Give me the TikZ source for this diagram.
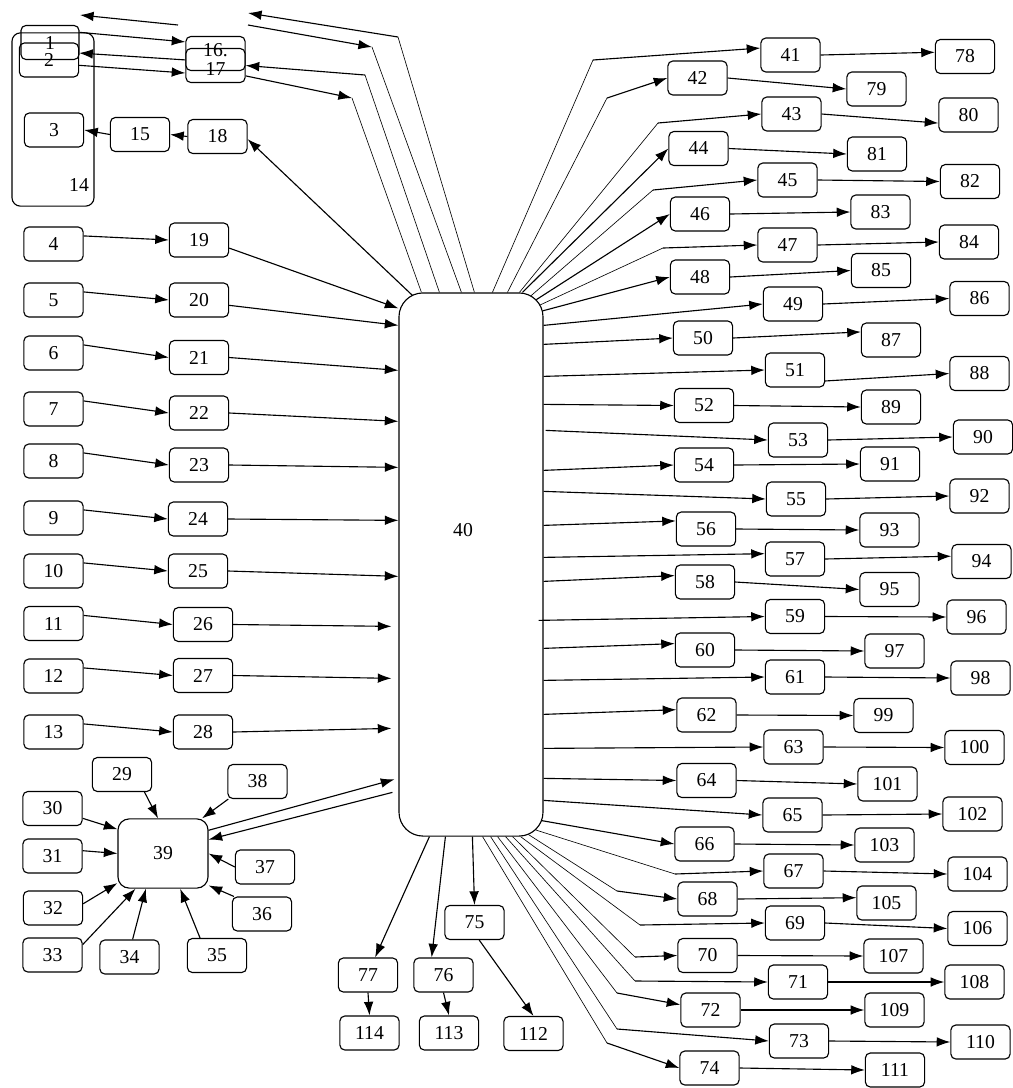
\documentclass[tikz,border=0pt]{standalone}
\usepackage{fontspec}
\setmainfont{Liberation Serif}
\usetikzlibrary{arrows.meta}

\begin{document}
\begin{tikzpicture}[x=0.025cm, y=-0.025cm,
	box/.style={draw, line width=0.8pt, rounded corners=3.5pt, minimum width=1.48cm, minimum height=0.85cm, inner sep=0pt, font=\fontsize{14}{16}\selectfont},
	lab/.style={inner sep=0pt, font=\fontsize{14}{16}\selectfont},
	arr/.style={-{Latex[length=3.4mm, width=2.4mm]}, line width=0.8pt},
	fan/.style={line width=0.45pt}]
	\useasboundingbox (0,0) rectangle (1013,1088);

	\node[box, minimum width=2.05cm, minimum height=4.33cm, rounded corners=6pt] (b14) at (53,119.5) {};
	\node[lab] (t14) at (79,185) {14};
	\node[box, minimum width=1.45cm] (b1) at (50,42.5) {1};
	\node[box] (b2) at (49,60) {2};
	\node[box] (b3) at (54,130) {3};
	\node[box] (b15) at (140,134.5) {15};
	\node[box] (b16) at (215.5,53.5) {\raisebox{2.5pt}[\height][\depth]{16.}};
	\node[box] (b17) at (215.5,65.5) {\raisebox{-2.5pt}[\height][\depth]{17}};
	\node[box] (b18) at (217.5,136.5) {18};

	\node[box] (b4) at (53.5,244) {4};
	\node[box] (b5) at (53.5,300) {5};
	\node[box] (b6) at (53.5,353) {6};
	\node[box] (b7) at (53.5,409) {7};
	\node[box] (b8) at (53.5,461) {8};
	\node[box] (b9) at (53.5,518) {9};
	\node[box] (b10) at (53.5,571) {10};
	\node[box] (b11) at (53.5,623.5) {11};
	\node[box] (b12) at (53.5,676) {12};
	\node[box] (b13) at (53.5,732) {13};

	\node[box] (b19) at (199,240) {19};
	\node[box] (b20) at (199,300) {20};
	\node[box] (b21) at (199,357.5) {21};
	\node[box] (b22) at (199,413) {22};
	\node[box] (b23) at (199,465) {23};
	\node[box] (b24) at (198,519) {24};
	\node[box] (b25) at (198,571) {25};
	\node[box] (b26) at (203,624.5) {26};
	\node[box] (b27) at (203,675.5) {27};
	\node[box] (b28) at (203,732) {28};

	\node[box] (b29) at (122,774.5) {29};
	\node[box] (b30) at (52.5,808.5) {30};
	\node[box] (b31) at (52.5,856) {31};
	\node[box] (b32) at (53,908) {32};
	\node[box] (b33) at (52.5,955) {33};
	\node[box] (b34) at (129.5,957) {34};
	\node[box] (b35) at (217,955.5) {35};
	\node[box] (b36) at (262,914) {36};
	\node[box] (b37) at (265,867) {37};
	\node[box] (b38) at (257.5,781.5) {38};
	\node[box, minimum width=2.25cm, minimum height=1.73cm, rounded corners=8pt] (b39) at (163,853.5) {39};

	\node[box, minimum width=3.6cm, minimum height=13.575cm, rounded corners=0.6cm] (b40) at (471,564.5) {};
	\node[lab] (t40) at (463,530) {40};

	\node[box] (b41) at (790.5,55) {41};
	\node[box] (b42) at (697.5,78) {42};
	\node[box] (b43) at (791.5,114) {43};
	\node[box] (b44) at (698.5,148.5) {44};
	\node[box] (b45) at (787.5,180) {45};
	\node[box] (b46) at (700,214) {46};
	\node[box] (b47) at (787.5,245) {47};
	\node[box] (b48) at (700,277) {48};
	\node[box] (b49) at (793,304) {49};
	\node[box] (b50) at (703,338) {50};
	\node[box] (b51) at (795,370) {51};
	\node[box] (b52) at (704,405.5) {52};
	\node[box] (b53) at (798,440) {53};
	\node[box] (b54) at (704,465) {54};
	\node[box] (b55) at (796,499) {55};
	\node[box] (b56) at (706,529) {56};
	\node[box] (b57) at (795,559) {57};
	\node[box] (b58) at (705,582) {58};
	\node[box] (b59) at (795,616.5) {59};
	\node[box] (b60) at (705,650) {60};
	\node[box] (b61) at (795,677) {61};
	\node[box] (b62) at (706.5,715) {62};
	\node[box] (b63) at (793.5,747) {63};
	\node[box] (b64) at (706.5,780.5) {64};
	\node[box] (b65) at (792.5,815) {65};
	\node[box] (b66) at (704.5,844) {66};
	\node[box] (b67) at (793.5,871) {67};
	\node[box] (b68) at (707.5,899) {68};
	\node[box] (b69) at (795,923) {69};
	\node[box] (b70) at (707.5,955.5) {70};
	\node[box] (b71) at (798,982) {71};
	\node[box] (b72) at (710.5,1010) {72};
	\node[box] (b73) at (799,1041) {73};
	\node[box] (b74) at (709.5,1068) {74};

	\node[box] (b75) at (474.5,922.5) {75};
	\node[box] (b76) at (443.5,975) {76};
	\node[box] (b77) at (368,975) {77};

	\node[box] (b78) at (965,56.5) {78};
	\node[box] (b79) at (876.5,89) {79};
	\node[box] (b80) at (968.5,115) {80};
	\node[box] (b81) at (877,154) {81};
	\node[box] (b82) at (970,181.5) {82};
	\node[box] (b83) at (880.5,212) {83};
	\node[box] (b84) at (969,242) {84};
	\node[box] (b85) at (881,270.5) {85};
	\node[box] (b86) at (979.5,298.5) {86};
	\node[box] (b87) at (891,340) {87};
	\node[box] (b88) at (979.5,373.5) {88};
	\node[box] (b89) at (891,407) {89};
	\node[box] (b90) at (983,437) {90};
	\node[box] (b91) at (890,464) {91};
	\node[box] (b92) at (979.5,496) {92};
	\node[box] (b93) at (889.5,530) {93};
	\node[box] (b94) at (981.5,561.5) {94};
	\node[box] (b95) at (889.5,589.5) {95};
	\node[box] (b96) at (976.5,617) {96};
	\node[box] (b97) at (894.5,651) {97};
	\node[box] (b98) at (980.5,678) {98};
	\node[box] (b99) at (883.5,715.5) {99};
	\node[box] (b100) at (974.5,747.5) {100};
	\node[box] (b101) at (887.5,784) {101};
	\node[box] (b102) at (972.5,814) {102};
	\node[box] (b103) at (884.5,845) {103};
	\node[box] (b104) at (977.5,874) {104};
	\node[box] (b105) at (886.5,903) {105};
	\node[box] (b106) at (977.5,928.5) {106};
	\node[box] (b107) at (893.5,956) {107};
	\node[box] (b108) at (974.5,982) {108};
	\node[box] (b109) at (894.5,1010) {109};
	\node[box] (b110) at (980.5,1042) {110};
	\node[box] (b111) at (895,1070) {111};

	\node[box] (b112) at (533.5,1033.5) {112};
	\node[box] (b113) at (449,1033) {113};
	\node[box] (b114) at (369.5,1033) {114};

	\coordinate (p1) at (178,25);
	\coordinate (p2) at (80,15);
	\coordinate (pA) at (248,13);
	\coordinate (kA) at (398,37);
	\coordinate (pB) at (248,25);
	\coordinate (kB) at (372,47);
	\coordinate (kC) at (365,75);
	\coordinate (kD) at (352,98);

	\coordinate (k41) at (593,60);
	\coordinate (k42) at (607,98);
	\coordinate (k43) at (658,123);
	\coordinate (k45) at (653,190);
	\coordinate (k47) at (663,248);
	\coordinate (k67) at (675,874);
	\coordinate (k68) at (617,891);
	\coordinate (k69) at (640,925);
	\coordinate (k70) at (635,957);
	\coordinate (k71) at (635,981);
	\coordinate (k72) at (617,993);
	\coordinate (k73) at (617,1029);
	\coordinate (k74) at (607,1043);

	\draw[arr] (b1.19) -- (b16.159);
	\draw[arr] (b16.192) -- (b2.13);
	\draw[arr] (b2.-10) -- (b17.194);
	\draw[arr] (b18.west) -- (b15.east);
	\draw[arr] (b15.west) -- (b3.east);
	\draw[arr] ([shift={(14,3)}]b40.north west) -- (b18.-5);
	\draw[arr] (p1) -- (p2);

	\draw[fan] ([shift={(76,0)}]b40.north west) -- (kA);
	\draw[arr] (kA) -- (pA);
	\draw[arr] (pB) -- (kB);
	\draw[fan] (kB) -- ([shift={(63,0)}]b40.north west);
	\draw[fan] ([shift={(41,0)}]b40.north west) -- (kC);
	\draw[arr] (kC) -- (b17.east);
	\draw[arr] (b17.-19) -- (kD);
	\draw[fan] (kD) -- ([shift={(23,0)}]b40.north west);

	\draw[arr] (b4.15) -- (b19.west);
	\draw[arr] (b5.15) -- (b20.west);
	\draw[arr] (b6.15) -- (b21.west);
	\draw[arr] (b7.15) -- (b22.west);
	\draw[arr] (b8.15) -- (b23.west);
	\draw[arr] (b9.15) -- (b24.west);
	\draw[arr] (b10.15) -- (b25.west);
	\draw[arr] (b11.15) -- (b26.west);
	\draw[arr] (b12.15) -- (b27.west);
	\draw[arr] (b13.15) -- (b28.west);

	\draw[arr] (b19.-15) -- ([shift={(0,16)}]b40.north west);
	\draw[arr] (b20.-10) -- ([shift={(0,33)}]b40.north west);
	\draw[arr] (b21.east) -- ([shift={(0,78)}]b40.north west);
	\draw[arr] (b22.east) -- ([shift={(0,129)}]b40.north west);
	\draw[arr] (b23.east) -- ([shift={(0,175)}]b40.north west);
	\draw[arr] (b24.east) -- ([shift={(0,228)}]b40.north west);
	\draw[arr] (b25.east) -- ([shift={(0,284)}]b40.north west);
	\draw[arr] (b26.east) -- ([shift={(-7,334)}]b40.north west);
	\draw[arr] (b27.east) -- ([shift={(-7,386)}]b40.north west);
	\draw[arr] (b28.east) -- ([shift={(-7,436)}]b40.north west);

	\draw[arr] (b39.27) -- ([shift={(-4,487)}]b40.north west);
	\draw[arr] ([shift={(-6,500)}]b40.north west) -- (b39.17);
	\draw[arr] (b29.-38) -- (b39.98);
	\draw[arr] (b38.211) -- (b39.42);
	\draw[arr] (b30.-18) -- (b39.152);
	\draw[arr] (b31.10) -- (b39.west);
	\draw[arr] (b32.8) -- (b39.213);
	\draw[arr] (b33.19) -- (b39.232);
	\draw[arr] (b34.80) -- (b39.244);
	\draw[arr] (b35.134) -- (b39.-64);
	\draw[arr] (b36.148) -- (b39.-35);
	\draw[arr] (b37.west) -- (b39.east);

	\draw[fan] ([shift={(94,0)}]b40.north west) -- (k41);
	\draw[arr] (k41) -- (b41.167);
	\draw[fan] ([shift={(109,0)}]b40.north west) -- (k42);
	\draw[arr] (k42) -- (b42.west);
	\draw[fan] ([shift={(121,0)}]b40.north west) -- (k43);
	\draw[arr] (k43) -- (b43.west);
	\draw[arr] ([shift={(124,0)}]b40.north west) -- (b44.west);
	\draw[fan] ([shift={(-12.5,3.3)}]b40.north east) -- (k45);
	\draw[arr] (k45) -- (b45.west);
	\draw[arr] ([shift={(-7.3,7.3)}]b40.north east) -- (b46.west);
	\draw[fan] ([shift={(-3.3,12.5)}]b40.north east) -- (k47);
	\draw[arr] (k47) -- (b47.west);
	\draw[arr] ([shift={(-1,18.5)}]b40.north east) -- (b48.west);
	\draw[arr] ([shift={(0,33)}]b40.north east) -- (b49.west);
	\draw[arr] ([shift={(0,52)}]b40.north east) -- (b50.west);
	\draw[arr] ([shift={(0,84)}]b40.north east) -- (b51.west);
	\draw[arr] ([shift={(0,112)}]b40.north east) -- (b52.west);
	\draw[arr] ([shift={(2,138)}]b40.north east) -- (b53.west);
	\draw[arr] ([shift={(0,178)}]b40.north east) -- (b54.west);
	\draw[arr] ([shift={(0,199)}]b40.north east) -- (b55.west);
	\draw[arr] ([shift={(0,233)}]b40.north east) -- (b56.165);
	\draw[arr] ([shift={(0,265)}]b40.north east) -- (b57.170);
	\draw[arr] ([shift={(0,289)}]b40.north east) -- (b58.168);
	\draw[arr] ([shift={(-5,328)}]b40.north east) -- (b59.west);
	\draw[arr] ([shift={(0,356)}]b40.north east) -- (b60.168);
	\draw[arr] ([shift={(0,388)}]b40.north east) -- (b61.west);
	\draw[arr] ([shift={(0,422)}]b40.north east) -- (b62.170);
	\draw[arr] ([shift={(0,456)}]b40.north east) -- (b63.west);
	\draw[arr] ([shift={(0,486)}]b40.north east) -- (b64.west);
	\draw[arr] ([shift={(0,508)}]b40.north east) -- (b65.west);

	\draw[arr] ([shift={(-1.7,-16)}]b40.south east) -- (b66.west);
	\draw[fan] ([shift={(-8,-6.7)}]b40.south east) -- (k67);
	\draw[arr] (k67) -- (b67.west);
	\draw[fan] ([shift={(-15,-2)}]b40.south east) -- (k68);
	\draw[arr] (k68) -- (b68.west);
	\draw[fan] ([shift={(-23,0)}]b40.south east) -- (k69);
	\draw[arr] (k69) -- (b69.west);
	\draw[fan] ([shift={(-31,0)}]b40.south east) -- (k70);
	\draw[arr] (k70) -- (b70.west);
	\draw[fan] ([shift={(-38,0)}]b40.south east) -- (k71);
	\draw[arr] (k71) -- (b71.west);
	\draw[fan] ([shift={(-46,0)}]b40.south east) -- (k72);
	\draw[arr] (k72) -- (b72.170);
	\draw[fan] ([shift={(-53,0)}]b40.south east) -- (k73);
	\draw[arr] (k73) -- (b73.west);
	\draw[fan] ([shift={(-61,0)}]b40.south east) -- (k74);
	\draw[arr] (k74) -- (b74.west);

	\draw[arr] ([shift={(31,0)}]b40.south west) -- (b77.68);
	\draw[arr] ([shift={(47,0)}]b40.south west) -- (b76.124);
	\draw[arr] ([shift={(74,0)}]b40.south west) -- (b75.north);
	\draw[arr] (b75.-75) -- (b112.north);
	\draw[arr] (b76.south) -- (b113.north);
	\draw[arr] (b77.south) -- (b114.north);

	\draw[arr] (b41.east) -- (b78.172);
	\draw[arr] (b42.east) -- (b79.west);
	\draw[arr] (b43.east) -- (b80.195);
	\draw[arr] (b44.east) -- (b81.west);
	\draw[arr] (b45.east) -- (b82.west);
	\draw[arr] (b46.east) -- (b83.west);
	\draw[arr] (b47.east) -- (b84.west);
	\draw[arr] (b48.east) -- (b85.west);
	\draw[arr] (b49.east) -- (b86.west);
	\draw[arr] (b50.east) -- (b87.165);
	\draw[arr] (b51.-20) -- (b88.west);
	\draw[arr] (b52.east) -- (b89.west);
	\draw[arr] (b53.east) -- (b90.west);
	\draw[arr] (b54.east) -- (b91.west);
	\draw[arr] (b55.east) -- (b92.west);
	\draw[arr] (b56.east) -- (b93.west);
	\draw[arr] (b57.east) -- (b94.170);
	\draw[arr] (b58.east) -- (b95.west);
	\draw[arr] (b59.east) -- (b96.west);
	\draw[arr] (b60.east) -- (b97.west);
	\draw[arr] (b61.east) -- (b98.west);
	\draw[arr] (b62.east) -- (b99.west);
	\draw[arr] (b63.east) -- (b100.west);
	\draw[arr] (b64.east) -- (b101.west);
	\draw[arr] (b65.east) -- (b102.west);
	\draw[arr] (b66.east) -- (b103.west);
	\draw[arr] (b67.east) -- (b104.west);
	\draw[arr] (b68.east) -- (b105.170);
	\draw[arr] (b69.east) -- (b106.west);
	\draw[arr] (b70.east) -- (b107.west);
	\draw[arr] (b71.east) -- (b108.west);
	\draw[arr] (b72.east) -- (b109.west);
	\draw[arr] (b73.east) -- (b110.west);
	\draw[arr] (b74.east) -- (b111.west);
\end{tikzpicture}
\end{document}
